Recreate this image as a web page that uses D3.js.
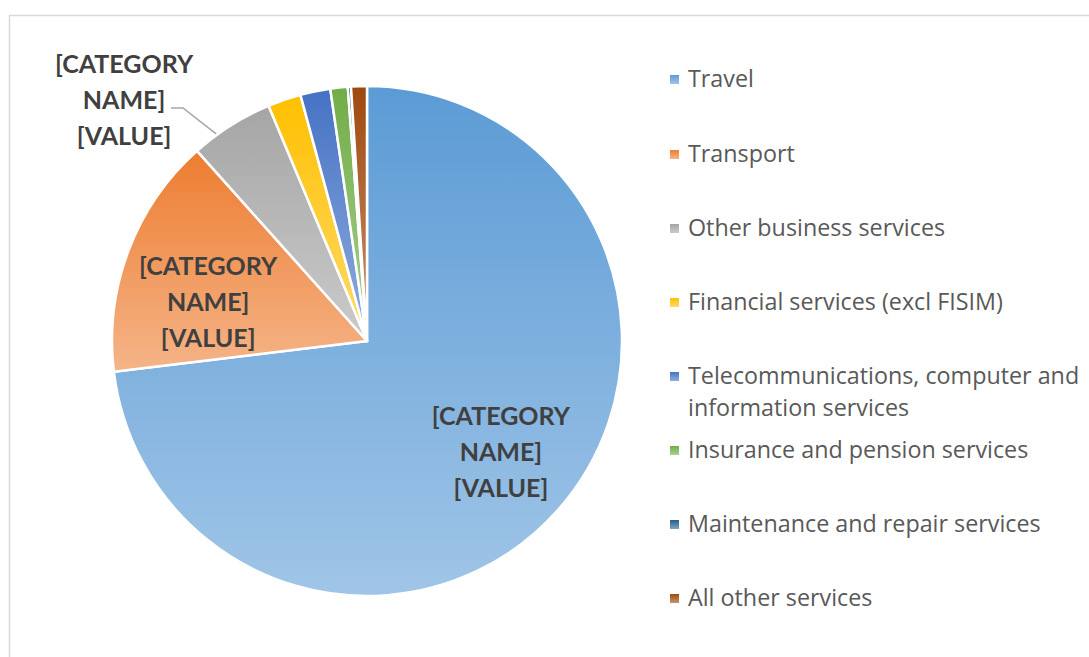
<!DOCTYPE html>
<html>
<head>
<meta charset="utf-8">
<script src="https://cdn.jsdelivr.net/npm/d3@7"></script>
<style>
  body { margin: 0; background: #fff; }
  svg { display: block; font-family: Lato, "Open Sans", sans-serif; }
</style>
</head>
<body>
<svg id="chart"></svg>
<script>
// shares of services (per cent)
const categories = [
    "Travel",
    "Transport",
    "Other business services",
    "Financial services (excl FISIM)",
    "Telecommunications, computer and information services",
    "Insurance and pension services",
    "Maintenance and repair services",
    "All other services"
];
const values = [73.0, 15.3, 5.3, 2.1, 1.9, 1.1, 0.2, 1.0];
const colors = ["#5B9BD5", "#ED7D31", "#A5A5A5", "#FFC000", "#4472C4", "#70AD47", "#255E91", "#9E480E"];
const labelLines = ["[CATEGORY", "NAME]", "[VALUE]"];
// legend entries that wrap onto two lines
const legendLines = [
    ["Travel"],
    ["Transport"],
    ["Other business services"],
    ["Financial services (excl FISIM)"],
    ["Telecommunications, computer and", "information services"],
    ["Insurance and pension services"],
    ["Maintenance and repair services"],
    ["All other services"]
];

const width = 1089, height = 657;
const cx = 367, cy = 341, radius = 255;

const svg = d3.select("#chart")
    .attr("width", width)
    .attr("height", height);

// chart area border (only top and left show)
svg.append("path")
    .attr("d", `M9.5,${height} V15.5 H${width}`)
    .attr("fill", "none")
    .attr("stroke", "#d9d9d9")
    .attr("stroke-width", 1.5);

const defs = svg.append("defs");
colors.forEach((c, i) => {
    const g = defs.append("linearGradient")
        .attr("id", "grad" + i)
        .attr("x1", 0).attr("y1", 0)
        .attr("x2", 0).attr("y2", 1);
    g.append("stop").attr("offset", "0%").attr("stop-color", c);
    g.append("stop").attr("offset", "100%").attr("stop-color", d3.interpolateRgb(c, "#fff")(0.42));
});

const data = categories.map((c, i) => ({ name: c, value: values[i], index: i }));

const pie = d3.pie()
    .sort(null)
    .value(d => d.value);

const arc = d3.arc()
    .innerRadius(0)
    .outerRadius(radius);

const arcs = pie(data);

const chart = svg.append("g")
    .attr("transform", `translate(${cx}, ${cy})`);

chart.selectAll(".slice")
    .data(arcs)
    .join("path")
    .attr("class", "slice")
    .attr("d", arc)
    .attr("fill", d => `url(#grad${d.data.index})`)
    .attr("stroke", "#fff")
    .attr("stroke-width", 2.5)
    .attr("stroke-linejoin", "round");

// data labels: inside for the two big slices, outside with a leader for the third
const labelArc = d3.arc()
    .innerRadius(radius * 0.67)
    .outerRadius(radius * 0.67);

const lineH = 36;
const labelFont = { size: 25, color: "#404040" };

function drawLabel(x, y) {
    const t = chart.append("text")
        .attr("text-anchor", "middle")
        .attr("font-size", labelFont.size)
        .attr("font-weight", "bold")
        .attr("fill", labelFont.color);
    labelLines.forEach((l, k) => {
        t.append("tspan")
            .attr("x", x)
            .attr("y", y + (k - 1) * lineH)
            .attr("dy", "0.35em")
            .text(l);
    });
}

const nudges = [[6, -2], [1, 21]];
[0, 1].forEach(i => {
    const [x, y] = labelArc.centroid(arcs[i]);
    drawLabel(x + nudges[i][0], y + nudges[i][1]);
});

// outside label for "Other business services"
const other = arcs[2];
const outerArc = d3.arc().innerRadius(radius * 1.005).outerRadius(radius * 1.005);
const edgePt = outerArc.centroid({ startAngle: other.startAngle, endAngle: other.startAngle + (other.endAngle - other.startAngle) * 0.6 });
const labelX = 124 - cx, labelY = 100 - cy;
chart.append("polyline")
    .attr("points", [[labelX + 47, labelY + 8], [labelX + 59, labelY + 8], edgePt].map(p => p.join(",")).join(" "))
    .attr("fill", "none")
    .attr("stroke", "#a6a6a6")
    .attr("stroke-width", 1.5);
drawLabel(labelX, labelY);

// legend
const legend = svg.append("g")
    .attr("transform", "translate(670, 79)");

const rowY = [0, 75, 149, 223, 297, 371, 445, 519];
const legendRow = legend.selectAll(".legend-row")
    .data(data)
    .join("g")
    .attr("class", "legend-row")
    .attr("transform", (d, i) => `translate(0, ${rowY[i]})`);

legendRow.append("rect")
    .attr("x", 0)
    .attr("y", -4)
    .attr("width", 9)
    .attr("height", 9)
    .attr("fill", d => `url(#grad${d.index})`);

legendRow.append("text")
    .attr("font-family", "'Open Sans', sans-serif")
    .attr("font-size", 23.3)
    .attr("fill", "#595959")
    .each(function (d, i) {
        legendLines[i].forEach((l, k) => {
            d3.select(this).append("tspan")
                .attr("x", 18)
                .attr("y", k * 32)
                .attr("dy", "0.35em")
                .text(l);
        });
    });
</script>
</body>
</html>
